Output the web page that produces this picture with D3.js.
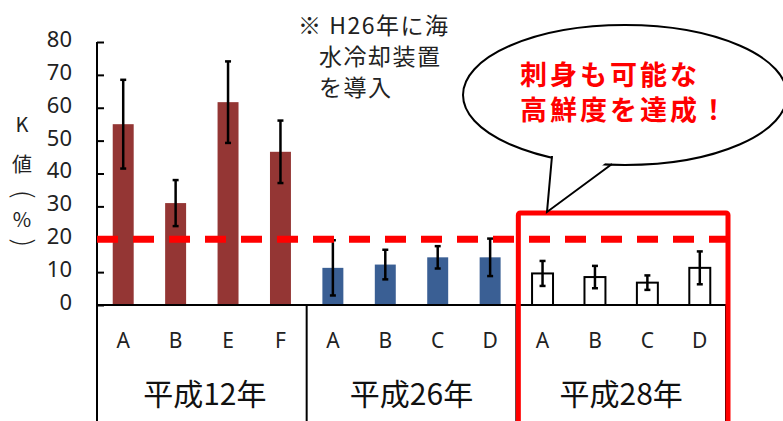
<!DOCTYPE html>
<html>
<head>
<meta charset="utf-8">
<script src="https://cdn.jsdelivr.net/npm/d3@7"></script>
<style>
  body { margin: 0; background: #fff; }
  svg { display: block; font-family: "Noto Sans CJK JP", "Noto Sans", sans-serif; }
</style>
</head>
<body>
<div id="chart"></div>
<script>
const width = 783;
const height = 421;

// data
const groups = ["平成12年", "平成26年", "平成28年"];
const categories = [["A", "B", "E", "F"], ["A", "B", "C", "D"], ["A", "B", "C", "D"]];
const values = [[55, 31, 61.7, 46.6], [11.3, 12.3, 14.5, 14.5], [9.6, 8.5, 6.8, 11.3]];
const errors = [[13.5, 7, 12.4, 9.5], [8.4, 4.5, 3.4, 5.7], [3.8, 3.4, 2.2, 5]];
const yTicks = [0, 10, 20, 30, 40, 50, 60, 70, 80];
const threshold = 20;
const note = ["※ H26年に海", "水冷却装置", "を導入"];
const bubbleLines = ["刺身も可能な", "高鮮度を達成！"];

const fills = ["#943634", "#3a5f94", "#ffffff"];

const rows = [];
groups.forEach((g, gi) => {
  categories[gi].forEach((c, ci) => {
    rows.push({ key: g + c, group: gi, cat: c, value: values[gi][ci], err: errors[gi][ci] });
  });
});

const svg = d3
  .select("#chart")
  .append("svg")
  .attr("width", width)
  .attr("height", height);

const x = d3
  .scaleBand()
  .domain(rows.map((d) => d.key))
  .range([97, 726])
  .paddingInner(0.6)
  .paddingOuter(0.3);

const y = d3.scaleLinear().domain([0, 80]).range([305, 42]);

// y axis
const yAxis = svg
  .append("g")
  .attr("transform", "translate(97,0)")
  .call(d3.axisLeft(y).tickValues(yTicks).tickSizeInner(-7).tickSizeOuter(0).tickPadding(25));
yAxis.select(".domain").remove();
yAxis.selectAll(".tick line").attr("stroke", "#000").attr("stroke-width", 2);
yAxis
  .selectAll(".tick text")
  .attr("font-size", 22)
  .attr("fill", "#222")
  .attr("dy", "0.2em")
  .style("font-family", "'Noto Sans', sans-serif");

svg.append("line")
  .attr("x1", 97).attr("x2", 97)
  .attr("y1", y(80)).attr("y2", height)
  .attr("stroke", "#000").attr("stroke-width", 2);

// y title, stacked vertically (parentheses turned sideways)
const yTitle = ["K", "値", "(", "%", ")"];
const yTitleY = [123, 163, 195, 218, 242];
const isParen = (d) => d === "(" || d === ")";
svg.append("g")
  .selectAll("text")
  .data(yTitle)
  .join("text")
  .attr("transform", (d, i) => `translate(22,${yTitleY[i]})` + (isParen(d) ? " rotate(90)" : ""))
  .attr("text-anchor", "middle")
  .attr("dominant-baseline", "central")
  .attr("font-size", (d) => (isParen(d) ? 28 : 20))
  .attr("font-weight", (d) => (isParen(d) ? 300 : 400))
  .attr("fill", "#222")
  .style("font-family", (d) => (isParen(d) ? "'DejaVu Sans', sans-serif" : "'Noto Sans CJK JP', sans-serif"))
  .text((d) => d);

// bars
svg.append("g")
  .selectAll("rect")
  .data(rows)
  .join("rect")
  .attr("x", (d) => x(d.key))
  .attr("width", x.bandwidth())
  .attr("y", (d) => y(d.value))
  .attr("height", (d) => y(0) - y(d.value))
  .attr("fill", (d) => fills[d.group])
  .attr("stroke", (d) => (d.group === 2 ? "#000" : "none"))
  .attr("stroke-width", 2);

// error bars
const eb = svg.append("g").attr("stroke", "#000").attr("stroke-width", 2.5);
rows.forEach((d) => {
  const cx = x(d.key) + x.bandwidth() / 2;
  eb.append("line").attr("x1", cx).attr("x2", cx).attr("y1", y(d.value + d.err)).attr("y2", y(d.value - d.err));
  [d.value + d.err, d.value - d.err].forEach((v) => {
    eb.append("line").attr("x1", cx - 3).attr("x2", cx + 3).attr("y1", y(v)).attr("y2", y(v));
  });
});

// baseline and group separators
svg.append("line")
  .attr("x1", 97).attr("x2", 726)
  .attr("y1", y(0)).attr("y2", y(0))
  .attr("stroke", "#000").attr("stroke-width", 2);

const step = x.step();
const groupEdges = [];
let start = 0;
categories.forEach((c) => {
  groupEdges.push([x.range()[0] + start * step, x.range()[0] + (start + c.length) * step]);
  start += c.length;
});

svg.append("g")
  .selectAll("line")
  .data(groupEdges.map((d) => d[1]))
  .join("line")
  .attr("x1", (d) => d).attr("x2", (d) => d)
  .attr("y1", y(0)).attr("y2", height)
  .attr("stroke", "#000").attr("stroke-width", 2);

// category labels
svg.append("g")
  .selectAll("text")
  .data(rows)
  .join("text")
  .attr("x", (d) => x(d.key) + x.bandwidth() / 2)
  .attr("y", 340)
  .attr("text-anchor", "middle")
  .attr("dominant-baseline", "central")
  .attr("font-size", 21)
  .attr("fill", "#222")
  .style("font-family", "'Noto Sans', sans-serif")
  .text((d) => d.cat);

// group labels
svg.append("g")
  .selectAll("text")
  .data(groups)
  .join("text")
  .attr("x", (d, i) => (groupEdges[i][0] + groupEdges[i][1]) / 2 + (i === 0 ? 3 : 0))
  .attr("y", 392)
  .attr("text-anchor", "middle")
  .attr("dominant-baseline", "central")
  .attr("font-size", 30)
  .attr("fill", "#111")
  .text((d) => d);

// threshold dashed line
svg.append("line")
  .attr("x1", 97).attr("x2", 727)
  .attr("y1", y(threshold)).attr("y2", y(threshold))
  .attr("stroke", "#ff0000")
  .attr("stroke-width", 7)
  .attr("stroke-dasharray", "21 15");

// red highlight box around last group
svg.append("rect")
  .attr("x", groupEdges[2][0] + 2)
  .attr("y", 213)
  .attr("width", groupEdges[2][1] - groupEdges[2][0])
  .attr("height", height)
  .attr("rx", 2)
  .attr("fill", "none")
  .attr("stroke", "#ff0000")
  .attr("stroke-width", 5);

// note text
svg.append("g")
  .selectAll("text")
  .data(note)
  .join("text")
  .attr("x", (d, i) => (i === 0 ? 298 : 319))
  .attr("y", (d, i) => 24 + i * 31)
  .attr("dominant-baseline", "central")
  .attr("font-size", 23)
  .attr("letter-spacing", 1.5)
  .attr("fill", "#222")
  .text((d) => d);

// speech bubble
const bubble = svg.append("g");
bubble.append("ellipse")
  .attr("cx", 625).attr("cy", 95)
  .attr("rx", 162).attr("ry", 70)
  .attr("fill", "#fff")
  .attr("stroke", "#000")
  .attr("stroke-width", 2);
bubble.append("path")
  .attr("d", "M553,150 L547,212 L610,159")
  .attr("fill", "#fff")
  .attr("stroke", "none");
bubble.append("path")
  .attr("d", "M552,156 L547,212 L612,164")
  .attr("fill", "none")
  .attr("stroke", "#000")
  .attr("stroke-width", 2);
bubble.selectAll("text")
  .data(bubbleLines)
  .join("text")
  .attr("x", 520)
  .attr("y", (d, i) => 73 + i * 35)
  .attr("dominant-baseline", "central")
  .attr("font-size", 27)
  .attr("font-weight", "bold")
  .attr("letter-spacing", 3)
  .attr("fill", "#ff0000")
  .text((d) => d);
</script>
</body>
</html>
